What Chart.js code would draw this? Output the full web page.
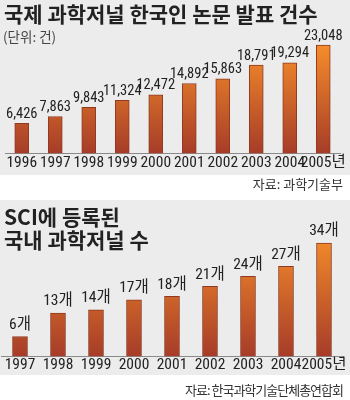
<!DOCTYPE html>
<html>
<head>
<meta charset="utf-8">
<script src="https://cdn.jsdelivr.net/npm/chart.js@4"></script>
<style>
  html, body { margin: 0; padding: 0; background: #fff; }
  #wrap { position: relative; width: 350px; height: 400px; overflow: hidden; font-family: 'Noto Sans CJK KR', sans-serif; color: #222; }
  .panel { position: absolute; left: 0; width: 350px; background: #ececec; }
  .panel canvas { position: absolute; left: 0; top: 0; }
  .title { position: absolute; left: 4px; font-weight: bold; font-size: 21px; line-height: 23px; white-space: nowrap; }
  .unit { position: absolute; left: 3px; top: 26px; font-size: 13.5px; color: #444; }
  .src { position: absolute; right: 7px; font-size: 13px; color: #333; white-space: nowrap; }
</style>
</head>
<body>
<div id="wrap">
  <div class="panel" style="top:0;height:175px">
    <canvas id="paperChart" width="350" height="175"></canvas>
    <div class="title" style="top:2px">국제 과학저널 한국인 논문 발표 건수</div>
    <div class="unit">(단위: 건)</div>
  </div>
  <div class="src" style="top:174px">자료: 과학기술부</div>

  <div class="panel" style="top:200px;height:175px">
    <canvas id="journalChart" width="350" height="175"></canvas>
    <div class="title" style="top:5px">SCI에 등록된<br>국내 과학저널 수</div>
  </div>
  <div class="src" style="top:380px;letter-spacing:-1px">자료: 한국과학기술단체총연합회</div>
</div>

<script>
const paperYears = ['1996', '1997', '1998', '1999', '2000', '2001', '2002', '2003', '2004', '2005년'];
const paperCounts = [6426, 7863, 9843, 11324, 12472, 14892, 15863, 18791, 19294, 23048];

const journalYears = ['1997', '1998', '1999', '2000', '2001', '2002', '2003', '2004', '2005년'];
const journalCounts = [6, 13, 14, 17, 18, 21, 24, 27, 34];

const narrow = "'Roboto Condensed', 'Noto Sans CJK KR', sans-serif";

// orange on top fading to brick red at the baseline
function barFill(context) {
  const chart = context.chart;
  const area = chart.chartArea;
  if (!area) return '#d0602c';
  const g = chart.ctx.createLinearGradient(0, area.top, 0, area.bottom);
  g.addColorStop(0, '#f7952c');
  g.addColorStop(0.1, '#f38b2b');
  g.addColorStop(1, '#a63c28');
  return g;
}

// value text above every bar
const valueLabels = {
  id: 'valueLabels',
  afterDatasetsDraw(chart, args, opts) {
    const ctx = chart.ctx;
    const meta = chart.getDatasetMeta(0);
    const data = chart.data.datasets[0].data;
    ctx.save();
    ctx.font = opts.font;
    ctx.fillStyle = '#222';
    ctx.textAlign = 'center';
    ctx.textBaseline = 'bottom';
    meta.data.forEach((bar, i) => {
      ctx.fillText(opts.format(data[i]), bar.x, bar.y - opts.gap);
    });
    ctx.restore();
  }
};

function makeChart(id, labels, values, cfg) {
  return new Chart(document.getElementById(id), {
    type: 'bar',
    data: {
      labels,
      datasets: [{
        data: values,
        backgroundColor: barFill,
        borderColor: '#8e3a22',
        borderWidth: 1,
        barThickness: cfg.barWidth
      }]
    },
    options: {
      responsive: false,
      animation: false,
      layout: { padding: cfg.padding },
      plugins: {
        legend: { display: false },
        tooltip: { enabled: false },
        valueLabels: { font: cfg.labelSize + 'px ' + narrow, gap: cfg.gap, format: cfg.format }
      },
      scales: {
        x: {
          grid: { display: false, drawTicks: false },
          border: { display: true, color: '#8a8a8a' },
          ticks: {
            color: '#222',
            autoSkip: false,
            maxRotation: 0,
            padding: cfg.tickPad,
            font: { family: narrow, size: 15.5, lineHeight: 1.0 }
          }
        },
        y: { display: false, min: 0, max: cfg.max }
      }
    },
    plugins: [valueLabels]
  });
}

makeChart('paperChart', paperYears, paperCounts, {
  max: 25000,
  barWidth: 14,
  gap: 2,
  tickPad: 2,
  labelSize: 14.5,
  padding: { left: 5, right: 10, top: 36, bottom: 2 },
  format: v => v.toLocaleString('en-US')
});

makeChart('journalChart', journalYears, journalCounts, {
  max: 40,
  barWidth: 15,
  gap: 4,
  tickPad: 1,
  labelSize: 15.5,
  padding: { left: 1, right: 7, top: 23, bottom: 1 },
  format: v => v + '개'
});
</script>
</body>
</html>
